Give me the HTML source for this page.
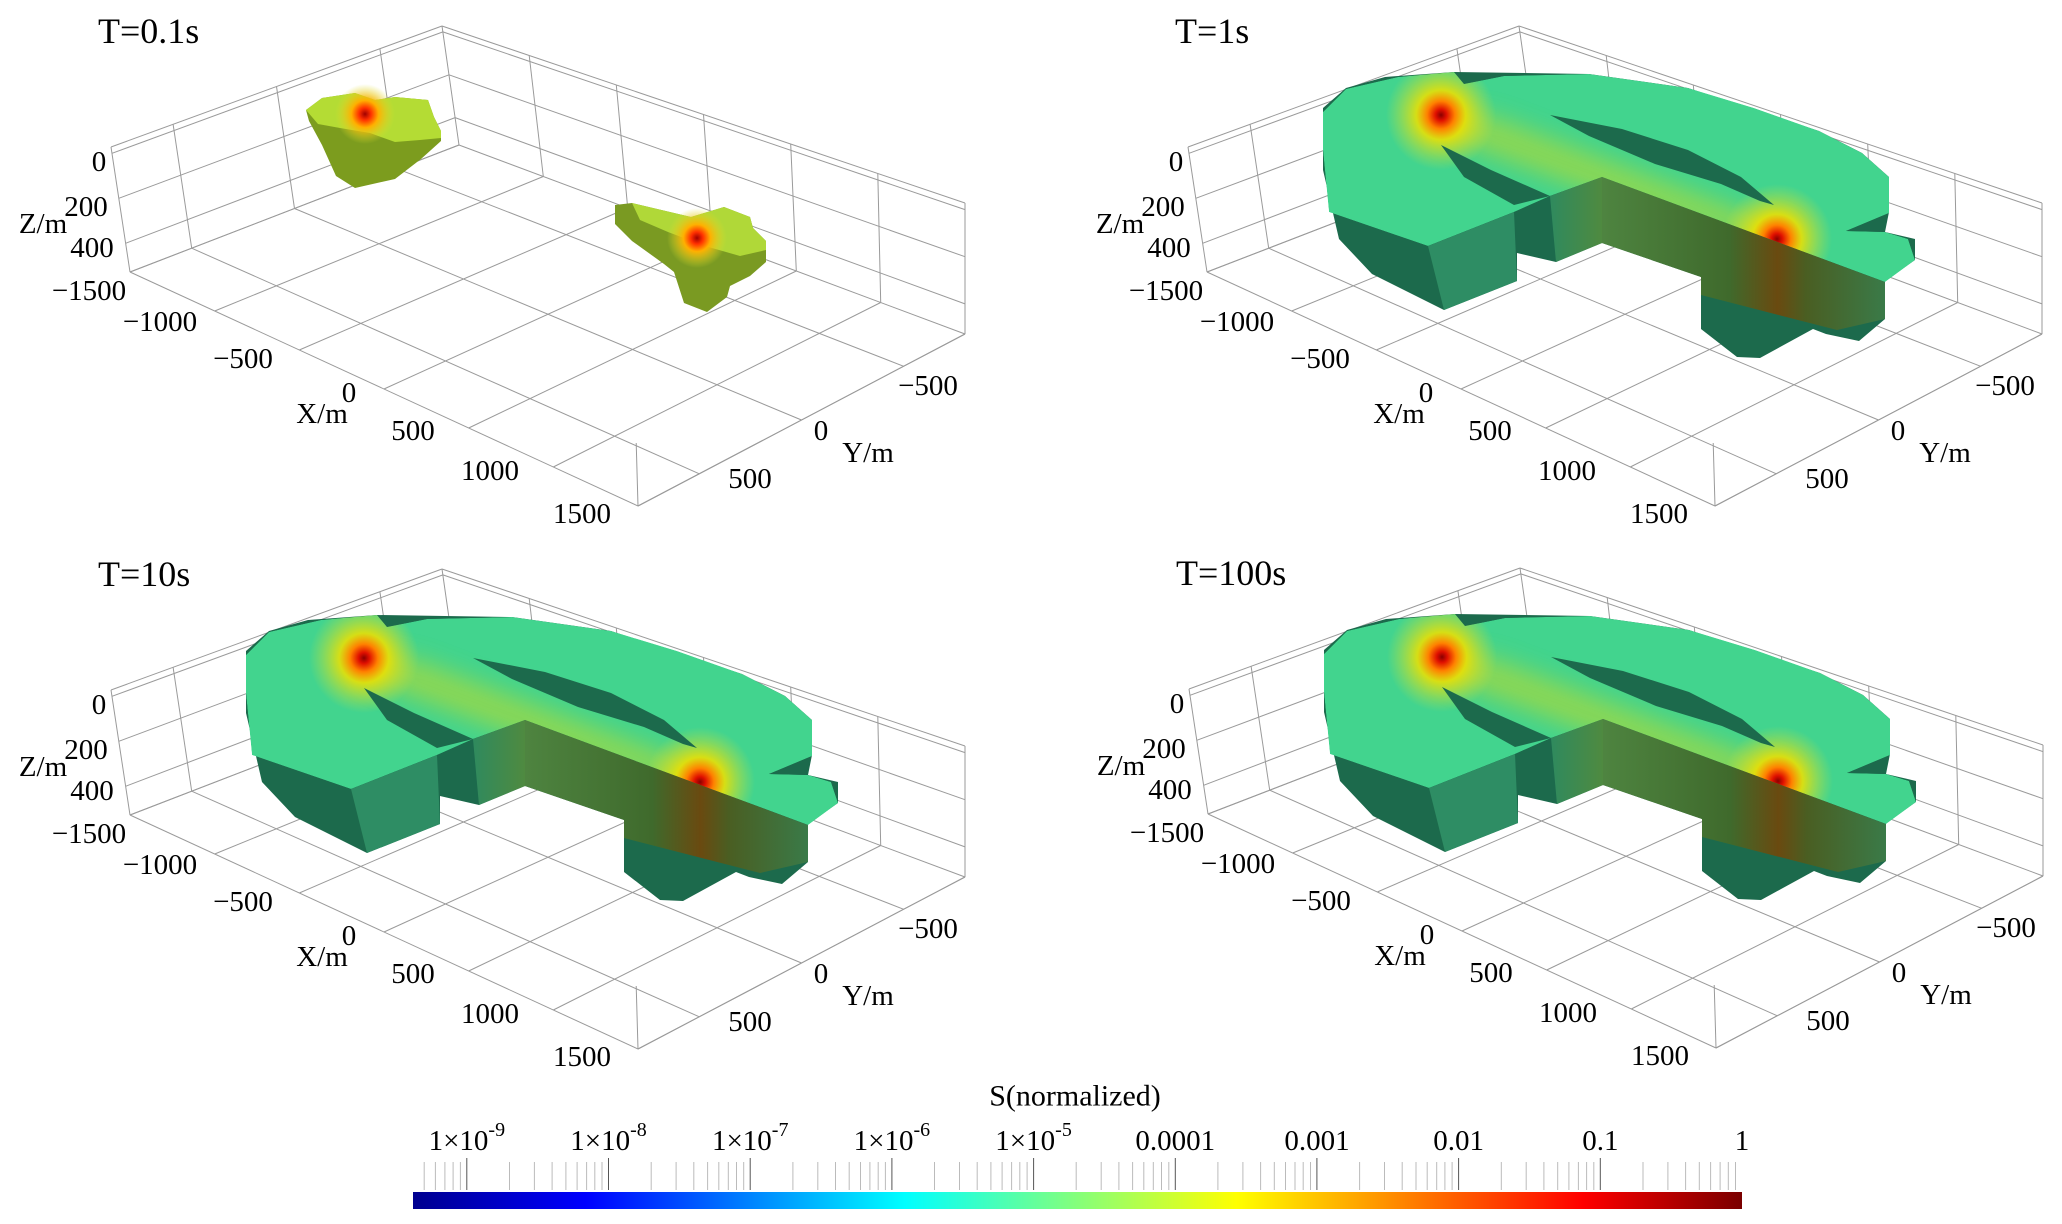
<!DOCTYPE html>
<html><head><meta charset="utf-8">
<style>
html,body{margin:0;padding:0;background:#fff;}
svg{display:block;}
text{font-family:"Liberation Serif",serif;fill:#000;}
</style></head>
<body>
<svg id="root" width="2062" height="1224" viewBox="0 0 2062 1224" xmlns="http://www.w3.org/2000/svg">
<defs>
  <linearGradient id="jet" x1="0" x2="1" y1="0" y2="0">
    <stop offset="0" stop-color="#00008f"/>
    <stop offset="0.13" stop-color="#0000ff"/>
    <stop offset="0.37" stop-color="#00ffff"/>
    <stop offset="0.62" stop-color="#ffff00"/>
    <stop offset="0.88" stop-color="#ff0000"/>
    <stop offset="1" stop-color="#7a0000"/>
  </linearGradient>
  <radialGradient id="src" cx="0.5" cy="0.5" r="0.5">
    <stop offset="0" stop-color="#8a0000"/>
    <stop offset="0.1" stop-color="#e01000"/>
    <stop offset="0.25" stop-color="#ff8000"/>
    <stop offset="0.45" stop-color="#f0e000" stop-opacity="0.85"/>
    <stop offset="1" stop-color="#c8e040" stop-opacity="0"/>
  </radialGradient>
  <radialGradient id="srcSmall" cx="0.5" cy="0.5" r="0.5">
    <stop offset="0" stop-color="#a00000"/>
    <stop offset="0.2" stop-color="#ff3000"/>
    <stop offset="0.45" stop-color="#ffb000"/>
    <stop offset="1" stop-color="#d8e030" stop-opacity="0"/>
  </radialGradient>
  <linearGradient id="slabFace" gradientUnits="userSpaceOnUse" x1="525" y1="0" x2="808" y2="0">
    <stop offset="0" stop-color="#4e8440"/>
    <stop offset="0.45" stop-color="#3f6a2c"/>
    <stop offset="0.62" stop-color="#6a4a10"/>
    <stop offset="0.72" stop-color="#4a5e22"/>
    <stop offset="1" stop-color="#3a7a48"/>
  </linearGradient>
  <linearGradient id="stepFace" gradientUnits="userSpaceOnUse" x1="473" y1="0" x2="525" y2="0">
    <stop offset="0" stop-color="#2f8a5e"/>
    <stop offset="1" stop-color="#4f8a40"/>
  </linearGradient>
  <filter id="blur12" x="-50%" y="-50%" width="200%" height="200%"><feGaussianBlur stdDeviation="12"/></filter>
</defs>
<g id="panels"></g>
<g id="colorbar"></g>
</svg>
<script>
// ---- data ----
const panelTitles = ["T=0.1s","T=1s","T=10s","T=100s"];
const xTickLabels = ["-1500","-1000","-500","0","500","1000","1500"];
const yTickLabels = ["500","0","-500"];
const zTickLabels = ["0","200","400"];
const cbLabels = ["1×10<tspan baseline-shift='super' font-size='20'>-9</tspan>","1×10<tspan baseline-shift='super' font-size='20'>-8</tspan>","1×10<tspan baseline-shift='super' font-size='20'>-7</tspan>","1×10<tspan baseline-shift='super' font-size='20'>-6</tspan>","1×10<tspan baseline-shift='super' font-size='20'>-5</tspan>","0.0001","0.001","0.01","0.1","1"];
const cbExponents = [-9,-8,-7,-6,-5,-4,-3,-2,-1,0];
const cbMinExp = -9.38, cbMaxExp = 0;

const NS = "http://www.w3.org/2000/svg";
function el(tag, attrs, parent){const e=document.createElementNS(NS,tag);for(const k in attrs)e.setAttribute(k,attrs[k]);if(parent)parent.appendChild(e);return e;}
function pts(a){return a.map(p=>p.join(",")).join(" ");}

const T={L:[111,147],F:[634,366],B:[442,26],R:[965,203]};
const Bo={L:[130,272],F:[638,506],B:[459,145],R:[965,334]};
function bil(c,u,v){
  const x=(1-u)*(1-v)*c.L[0]+u*(1-v)*c.F[0]+(1-u)*v*c.B[0]+u*v*c.R[0];
  const y=(1-u)*(1-v)*c.L[1]+u*(1-v)*c.F[1]+(1-u)*v*c.B[1]+u*v*c.R[1];
  return [x,y];}
function P(u,v,w){const a=bil(T,u,v),b=bil(Bo,u,v);return [a[0]+(b[0]-a[0])*w,a[1]+(b[1]-a[1])*w];}

const xFrac = xTickLabels.map((s,i)=>i/(xTickLabels.length-1));
const yFrac = yTickLabels.map(s=>(800-parseFloat(s))/1600);
const zFrac = zTickLabels.map(s=>0.05+parseFloat(s)/500*0.9);

function line(g,a,b,name){const l=el("line",{x1:a[0].toFixed(1),y1:a[1].toFixed(1),x2:b[0].toFixed(1),y2:b[1].toFixed(1),stroke:"#9a9a9a","stroke-width":"1"},g);
  
  }

function drawGrid(g){
  xFrac.forEach(u=>{line(g,P(u,0,1),P(u,1,1),"floor-grid-x");line(g,P(u,1,0),P(u,1,1),"wall-grid-x");});
  yFrac.forEach(v=>{line(g,P(0,v,1),P(1,v,1),"floor-grid-y");line(g,P(0,v,0),P(0,v,1),"wall-grid-y");});
  zFrac.concat([1]).forEach(w=>{line(g,P(0,0,w),P(0,1,w),"wall-grid-z");line(g,P(0,1,w),P(1,1,w),"wall-grid-z");});
  line(g,P(0,0,0),P(0,1,0),"box-edge");line(g,P(0,1,0),P(1,1,0),"box-edge");
  line(g,P(0,0,0),P(0,0,1),"box-edge");line(g,P(1,1,0),P(1,1,1),"box-edge");
  line(g,P(1,0,0.55),P(1,0,1),"box-edge");
  line(g,P(0,0,1),P(1,0,1),"box-edge");line(g,P(1,0,1),P(1,1,1),"box-edge");
}

function txt(g,x,y,s,size,name,anchor){const t=el("text",{x:x,y:y,"font-size":size,"text-anchor":anchor||"middle","dominant-baseline":"central"},g);t.innerHTML=s;
  
  return t;}

const xLabelPos=[[89,291],[160,322],[243,359],[349,393],[413,431],[490,471],[582,514]];
const yLabelPos=[[750,479],[821,431],[928,386]];
const zLabelPos=[[99,162],[86,207],[92,248]];
function drawAxes(g){
  xTickLabels.forEach((s,i)=>txt(g,xLabelPos[i][0],xLabelPos[i][1],s.replace("-","−"),29,"x-tick-label"));
  yTickLabels.forEach((s,i)=>txt(g,yLabelPos[i][0],yLabelPos[i][1],s.replace("-","−"),29,"y-tick-label"));
  zTickLabels.forEach((s,i)=>txt(g,zLabelPos[i][0],zLabelPos[i][1],s,29,"z-tick-label"));
  txt(g,43,224,"Z/m",29,"z-axis-title");
  txt(g,322,414,"X/m",29,"x-axis-title");
  txt(g,868,453,"Y/m",29,"y-axis-title");
}

function poly(g,p,fill,name,extra){const e=el("polygon",Object.assign({points:pts(p),fill:fill},extra||{}),g);
  
  return e;}

let clipId=0;
function bigShape(g){
  const sil=[[246,108],[246,170],[262,239],[295,274],[367,310],[440,281],[440,253],[479,262],[525,243],[624,277],[624,329],[660,357],[683,358],[736,329],[749,334],[782,341],[808,319],[808,281],[838,260],[838,239],[808,232],[812,212],[812,177],[785,153],[742,131],[611,88],[512,74],[377,72],[308,77],[269,88]];
  poly(g,sil,"#1c6a4c","field-side");
  const top=[[246,112],[269,89],[321,77],[377,72],[387,84],[427,76],[512,74],[611,88],[677,108],[742,131],[785,153],[812,177],[812,213],[769,231],[808,232],[831,239],[838,260],[808,282],[525,177],[473,196],[437,212],[351,246],[252,212],[246,150]];
  const id="topclip"+(clipId++);
  const cp=el("clipPath",{id:id},g);el("polygon",{points:pts(top)},cp);
  const tg=el("g",{"clip-path":"url(#"+id+")"},g);
  
  
  poly(tg,top,"#42d48e","top-base");
  poly(tg,[[370,108],[420,118],[715,230],[700,252],[520,194],[360,134]],"#9ad84a","slab-band",{filter:"url(#blur12)",opacity:"0.85"});
  el("circle",{cx:364,cy:115,r:55,fill:"url(#src)"},tg);
  el("circle",{cx:700,cy:239,r:55,fill:"url(#src)"},tg);
  poly(g,[[473,115],[545,129],[611,150],[664,177],[697,205],[683,201],[644,184],[578,164],[512,136]],"#1c6a4c","upper-gap");
  poly(g,[[364,145],[414,170],[473,196],[437,205],[387,177]],"#1c6a4c","lower-gap");
  poly(g,[[473,196],[525,177],[525,243],[479,262]],"url(#stepFace)","step-face");
  poly(g,[[525,177],[808,282],[808,319],[760,330],[624,295],[624,277],[525,243]],"url(#slabFace)","slab-face");
  poly(g,[[351,246],[437,212],[440,281],[367,310]],"#2e8d64","arm-front-face");
}

function smallShape(g){
  poly(g,[[306,110],[322,98],[355,93],[375,100],[395,97],[428,100],[434,117],[441,131],[441,141],[421,159],[395,179],[355,188],[336,176],[322,145],[309,121]],"#7c9c1e","blob-left-side");
  const t1=[[306,110],[322,98],[355,93],[375,100],[395,97],[428,100],[434,117],[441,131],[441,138],[420,140],[395,142],[370,133],[340,128],[318,124]];
  poly(g,t1,"#b4dc34","blob-left-top");
  el("circle",{cx:365,cy:114,r:30,fill:"url(#srcSmall)"},g);
  poly(g,[[615,205],[632,203],[691,217],[724,207],[750,217],[753,228],[766,241],[766,262],[750,276],[730,286],[727,297],[707,312],[684,303],[674,272],[664,264],[632,241],[615,224]],"#7a9a22","blob-right-side");
  poly(g,[[632,203],[691,217],[724,207],[750,217],[753,228],[766,241],[766,250],[740,256],[705,246],[668,232],[640,220]],"#b0d838","blob-right-top");
  el("circle",{cx:697,cy:238,r:30,fill:"url(#srcSmall)"},g);
}

const offsets=[[0,0],[1077,0],[0,543],[1078,542]];
const panelsG=document.getElementById("panels");
panelTitles.forEach((title,i)=>{
  const g=el("g",{transform:"translate("+offsets[i][0]+","+offsets[i][1]+")"},panelsG);
  
  
  const grid=el("g",{},g);
  
  
  drawGrid(grid);
  const shape=el("g",{},g);
  
  
  if(i===0) smallShape(shape); else bigShape(shape);
  const ax=el("g",{},g);
  
  
  drawAxes(ax);
  txt(g,98,31,title,36,"panel-title","start");
});

const cb=document.getElementById("colorbar");
const barX0=413, barX1=1742;
function cbX(e){return barX0+(e-cbMinExp)/(cbMaxExp-cbMinExp)*(barX1-barX0);}
const bar=el("rect",{x:barX0,y:1192,width:barX1-barX0,height:17,fill:"url(#jet)"},cb);


for(let d=-10; d<0; d++){for(let m=1;m<10;m++){const e=d+Math.log10(m);if(e<cbMinExp||e>cbMaxExp)continue;
  const x=cbX(e);const tk=el("line",{x1:x.toFixed(1),x2:x.toFixed(1),y1:m===1?1158:1162,y2:1190,stroke:m===1?"#555":"#bbb","stroke-width":"1"},cb);
  
  }}
cbExponents.forEach((e,i)=>{txt(cb,cbX(e),1141,cbLabels[i],29,"colorbar-tick-label");});
txt(cb,1075,1096,"S(normalized)",30,"colorbar-title");
</script>
</body></html>
